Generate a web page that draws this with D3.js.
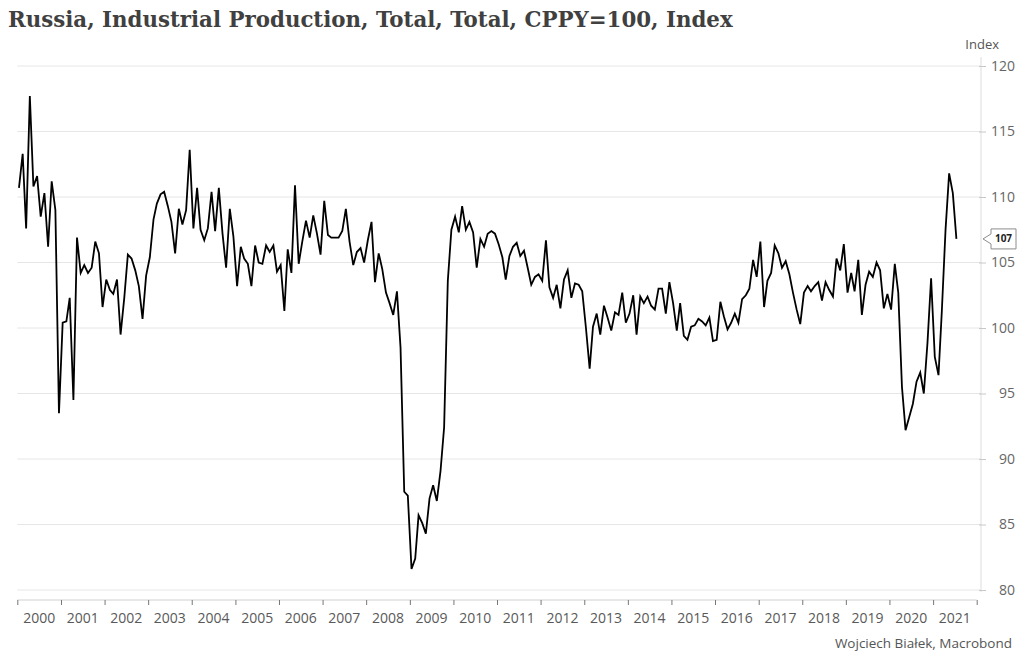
<!DOCTYPE html>
<html>
<head>
<meta charset="utf-8">
<script src="https://cdn.jsdelivr.net/npm/d3@7"></script>
<style>
  body { margin: 0; background: #fff; }
  text { font-family: "Segoe UI", "Open Sans", "Noto Sans", sans-serif; }
</style>
</head>
<body>
<svg width="1024" height="663"></svg>
<script>
// Monthly data, Jan 2000 .. Jul 2021 (same period previous year = 100)
const startYear = 2000;
const values = [
  110.7, 113.3, 107.6, 117.7, 110.8, 111.6, 108.5, 110.3, 106.2, 111.2, 109.0, 93.5,   // 2000
  100.4, 100.5, 102.3, 94.5, 106.9, 104.2, 104.8, 104.2, 104.6, 106.6, 105.7, 101.6,   // 2001
  103.7, 102.9, 102.6, 103.7, 99.5, 102.3, 105.6, 105.3, 104.4, 103.2, 100.7, 104.0,   // 2002
  105.4, 108.3, 109.5, 110.2, 110.4, 109.3, 108.1, 105.7, 109.1, 107.9, 109.0, 113.6,  // 2003
  107.6, 110.7, 107.5, 106.7, 107.6, 110.4, 107.4, 110.7, 107.2, 104.6, 109.1, 107.0,  // 2004
  103.2, 106.2, 105.3, 104.9, 103.2, 106.3, 105.0, 104.9, 106.3, 105.8, 106.3, 104.3,  // 2005
  104.8, 101.3, 106.0, 104.2, 110.9, 104.9, 106.6, 108.2, 106.9, 108.6, 107.2, 105.6,  // 2006
  109.7, 107.1, 106.9, 106.9, 106.9, 107.4, 109.1, 106.6, 104.8, 105.8, 106.1, 105.0,  // 2007
  106.7, 108.1, 103.5, 105.7, 104.5, 102.7, 101.9, 101.0, 102.8, 98.5, 87.5, 87.2,     // 2008
  81.6, 82.4, 85.7, 85.1, 84.3, 87.0, 88.0, 86.8, 89.1, 92.4, 103.6, 107.5,            // 2009
  108.5, 107.3, 109.3, 107.5, 108.1, 107.3, 104.6, 106.8, 106.2, 107.2, 107.4, 107.2,  // 2010
  106.4, 105.4, 103.7, 105.5, 106.2, 106.5, 105.5, 105.9, 104.6, 103.3, 103.9, 104.1,  // 2011
  103.6, 106.7, 103.1, 102.3, 103.3, 101.5, 103.7, 104.4, 102.3, 103.4, 103.3, 102.8,  // 2012
  100.0, 96.9, 100.1, 101.1, 99.5, 101.7, 100.8, 99.8, 101.2, 101.0, 102.7, 100.4,     // 2013
  101.1, 102.5, 99.5, 102.4, 101.9, 102.4, 101.7, 101.4, 103.0, 103.0, 101.1, 103.5,   // 2014
  101.9, 99.8, 101.9, 99.4, 99.1, 100.1, 100.2, 100.7, 100.5, 100.2, 100.8, 99.0,      // 2015
  99.1, 102.0, 100.9, 99.9, 100.4, 101.1, 100.4, 102.2, 102.5, 103.0, 105.2, 103.9,    // 2016
  106.6, 101.6, 103.6, 104.2, 106.3, 105.7, 104.6, 105.1, 104.1, 102.7, 101.4, 100.3,  // 2017
  102.7, 103.2, 102.8, 103.2, 103.5, 102.1, 103.5, 102.9, 102.4, 105.3, 104.4, 106.4,  // 2018
  102.7, 104.2, 102.8, 105.2, 101.0, 103.3, 104.3, 103.9, 105.0, 104.4, 101.5, 102.6,  // 2019
  101.4, 104.9, 102.7, 95.5, 92.2, 93.2, 94.2, 95.9, 96.6, 95.0, 98.9, 103.8,          // 2020
  97.8, 96.4, 101.3, 107.5, 111.8, 110.3, 106.8                                         // 2021
];
const yearLabels = d3.range(2000, 2022).map(String);
const yTicks = [80, 85, 90, 95, 100, 105, 110, 115, 120];

const title = "Russia, Industrial Production, Total, Total, CPPY=100, Index";
const unitLabel = "Index";
const sourceLabel = "Wojciech Białek, Macrobond";

const data = values.map((v, i) => ({
  date: new Date(startYear + Math.floor(i / 12), i % 12, 15),
  value: v
}));

const svg = d3.select("svg");

const x = d3.scaleTime()
  .domain([new Date(2000, 0, 1), new Date(2022, 0, 1)])
  .range([17.3, 976.7]);

const y = d3.scaleLinear()
  .domain([80, 120])
  .range([590, 66]);

const axisX = 981;
const bottomY = 600;

// Title
const t = svg.append("text")
  .attr("x", 8)
  .attr("y", 27)
  .style("font-family", "'DejaVu Serif', Georgia, serif")
  .style("font-weight", "bold")
  .style("font-size", "20px")
  .attr("fill", "#404040")
  .text(title);
const tw = t.node().getComputedTextLength();
t.style("font-size", (20 * 725 / tw) + "px");

// Gridlines
svg.append("g")
  .selectAll("line")
  .data(yTicks)
  .join("line")
  .attr("x1", x.range()[0])
  .attr("x2", axisX)
  .attr("y1", d => y(d))
  .attr("y2", d => y(d))
  .attr("stroke", "#e6e6e6")
  .attr("stroke-width", 1);

// Right axis
svg.append("line")
  .attr("x1", axisX).attr("x2", axisX)
  .attr("y1", 57).attr("y2", 592)
  .attr("stroke", "#dcdcdc");

const yAxis = svg.append("g")
  .attr("transform", `translate(${axisX - 2},0)`)
  .call(d3.axisRight(y).tickValues(yTicks).tickSize(7).tickFormat(d3.format("d")));
yAxis.select(".domain").remove();
yAxis.selectAll(".tick line").attr("stroke", "#c8c8c8");
yAxis.selectAll(".tick text")
  .attr("x", 1015 - (axisX - 2))
  .attr("text-anchor", "end")
  .attr("fill", "#666")
  .style("font-size", "14px");

svg.append("text")
  .attr("x", 999)
  .attr("y", 49)
  .attr("text-anchor", "end")
  .attr("fill", "#555")
  .style("font-size", "13px")
  .text(unitLabel);

// Bottom axis
const yearStarts = d3.range(2000, 2023).map(yr => new Date(yr, 0, 1));
const xAxis = svg.append("g")
  .attr("transform", `translate(0,${bottomY})`)
  .call(d3.axisBottom(x).tickValues(yearStarts).tickSize(5).tickFormat(""));
xAxis.select(".domain").attr("stroke", "#d0d0d0").attr("d", `M${x.range()[0]},0H${x.range()[1]}`);
xAxis.selectAll(".tick line").attr("stroke", "#777");

svg.append("g")
  .selectAll("text")
  .data(yearLabels)
  .join("text")
  .attr("x", d => x(new Date(+d, 6, 2)))
  .attr("y", 623)
  .attr("text-anchor", "middle")
  .attr("fill", "#595959")
  .style("font-size", "14px")
  .text(d => d);

// Series line
svg.append("path")
  .datum(data)
  .attr("fill", "none")
  .attr("stroke", "#000")
  .attr("stroke-width", 1.8)
  .attr("d", d3.line().x(d => x(d.date)).y(d => y(d.value)));

// Last value callout
const last = data[data.length - 1];
const ly = y(last.value);
svg.append("path")
  .attr("d", `M983,${ly}L991,${ly - 5}V${ly - 10}H1016V${ly + 10}H991V${ly + 5}Z`)
  .attr("fill", "#fff")
  .attr("stroke", "#8c8c8c");
svg.append("text")
  .attr("x", 1003.5)
  .attr("y", ly)
  .attr("dy", "0.35em")
  .attr("text-anchor", "middle")
  .style("font-size", "10px")
  .style("font-weight", "bold")
  .attr("fill", "#222")
  .text(d3.format(".0f")(last.value));

// Source
svg.append("text")
  .attr("x", 1012)
  .attr("y", 648)
  .attr("text-anchor", "end")
  .attr("fill", "#555")
  .style("font-size", "13.5px")
  .text(sourceLabel);
</script>
</body>
</html>
